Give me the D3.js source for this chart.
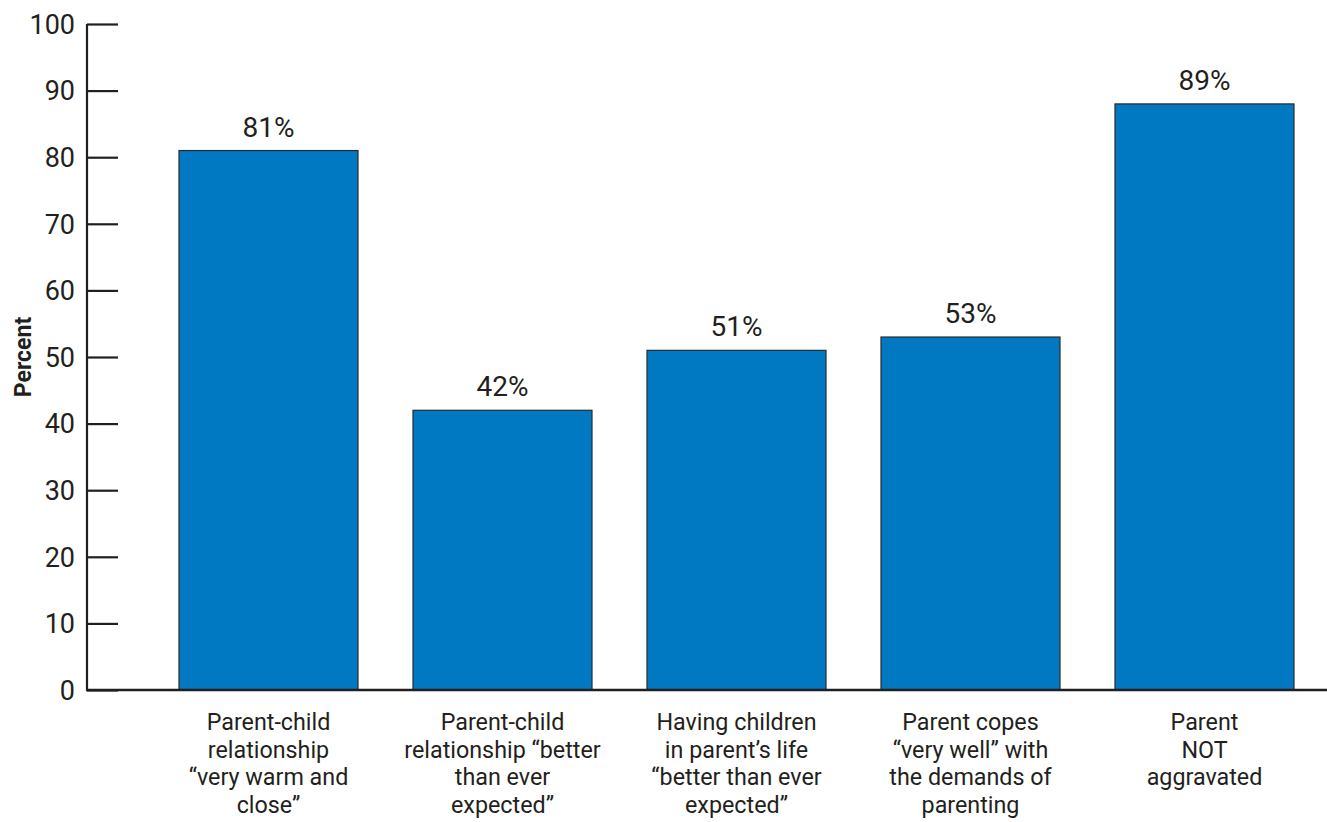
<!DOCTYPE html>
<html>
<head>
<meta charset="utf-8">
<script src="https://cdn.jsdelivr.net/npm/d3@7"></script>
<style>
  html, body { margin: 0; padding: 0; background: #ffffff; }
  svg { display: block; }
  text { font-family: Roboto, "Open Sans", sans-serif; fill: #231f20; }
</style>
</head>
<body>
<svg id="chart" width="1327" height="822"></svg>
<script>
const categories = [
  ["Parent-child", "relationship", "\u201cvery warm and", "close\u201d"],
  ["Parent-child", "relationship \u201cbetter", "than ever", "expected\u201d"],
  ["Having children", "in parent\u2019s life", "\u201cbetter than ever", "expected\u201d"],
  ["Parent copes", "\u201cvery well\u201d with", "the demands of", "parenting"],
  ["Parent", "NOT", "aggravated"]
];
const values = [81, 42, 51, 53, 88];
const valueLabels = ["81%", "42%", "51%", "53%", "89%"];
const yTicks = [0, 10, 20, 30, 40, 50, 60, 70, 80, 90, 100];
const yTitle = "Percent";

const svg = d3.select("#chart");
const axisX = 87, axisRight = 1327;
const yTop = 24, yBottom = 690;

const x = d3.scaleBand()
  .domain(d3.range(values.length))
  .range([151.5, 1321.5])
  .paddingInner(0.235)
  .paddingOuter(0.1175);

const y = d3.scaleLinear().domain([0, 100]).range([yBottom, yTop]);

// Y axis
const yAxis = d3.axisRight(y).tickValues(yTicks).tickSize(31).tickFormat("");
const gy = svg.append("g").attr("transform", `translate(${axisX},0)`).call(yAxis);
gy.select(".domain").attr("stroke", "#231f20").attr("stroke-width", 2.2).attr("d", `M0,${yTop}V${yBottom}`);
gy.selectAll(".tick line").attr("stroke", "#231f20").attr("stroke-width", 2.2);

svg.append("g").selectAll("text").data(yTicks).join("text")
  .attr("x", 75)
  .attr("y", d => y(d))
  .attr("dy", "0.36em")
  .attr("text-anchor", "end")
  .attr("font-size", 27)
  .text(d => d);

// Bars
svg.append("g").selectAll("rect").data(values).join("rect")
  .attr("x", (d, i) => x(i))
  .attr("width", x.bandwidth())
  .attr("y", d => y(d))
  .attr("height", d => y(0) - y(d))
  .attr("fill", "#0079c2")
  .attr("stroke", "#2a2a2a")
  .attr("stroke-width", 1.2);

// Baseline
svg.append("line")
  .attr("x1", axisX - 1).attr("x2", axisRight)
  .attr("y1", y(0)).attr("y2", y(0))
  .attr("stroke", "#231f20").attr("stroke-width", 2.4);

// Value labels
svg.append("g").selectAll("text").data(values).join("text")
  .attr("x", (d, i) => x(i) + x.bandwidth() / 2)
  .attr("y", d => y(d) - 14)
  .attr("text-anchor", "middle")
  .attr("font-size", 28)
  .text((d, i) => valueLabels[i]);

// Category labels
const cat = svg.append("g").selectAll("text").data(categories).join("text")
  .attr("x", (d, i) => x(i) + x.bandwidth() / 2)
  .attr("y", 730)
  .attr("text-anchor", "middle")
  .attr("font-size", 23.3);
cat.each(function(lines, i) {
  const t = d3.select(this);
  lines.forEach((ln, j) => {
    t.append("tspan")
      .attr("x", x(i) + x.bandwidth() / 2)
      .attr("y", 730 + j * 27.5)
      .text(ln);
  });
});

// Y title
svg.append("text")
  .attr("transform", `translate(31,${(yTop + yBottom) / 2}) rotate(-90)`)
  .attr("text-anchor", "middle")
  .attr("font-size", 23)
  .attr("font-weight", "bold")
  .text(yTitle);
</script>
</body>
</html>
